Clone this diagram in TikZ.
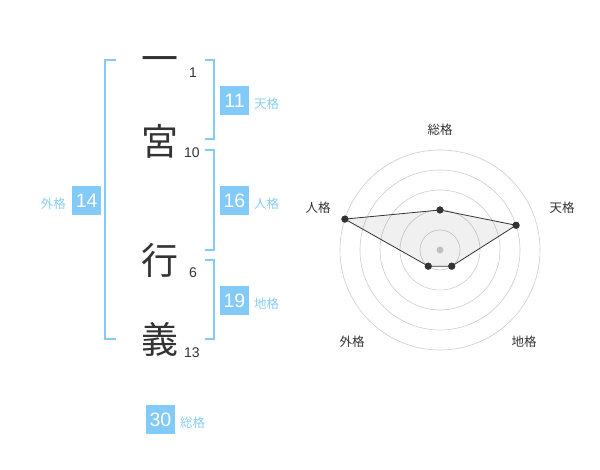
\documentclass[tikz,border=0pt]{standalone}
\usepackage{fontspec}
\setmainfont{Liberation Sans}
\newfontfamily\cjk{Noto Sans CJK JP}
\definecolor{lblue}{HTML}{82CBF8}
\definecolor{ltext}{HTML}{8ACDF5}
\definecolor{dark}{HTML}{333333}
\definecolor{ringc}{HTML}{CCCCCC}
\begin{document}
\begin{tikzpicture}[x=1pt,y=-1pt,
  bar/.style={draw=lblue, line width=2pt},
  numbox/.style={fill=lblue, text=white, minimum size=29pt, inner sep=0pt, font=\fontsize{19.5}{19.5}\selectfont},
  lbl/.style={text=ltext, font=\cjk\fontsize{12.5}{12.5}\selectfont, inner sep=0pt},
  kanji/.style={text=dark, font=\cjk\fontsize{37}{37}\selectfont, inner sep=0pt, text height=0.88em, text depth=0.12em},
  strokes/.style={text=dark, font=\fontsize{14}{14}\selectfont, inner sep=0pt},
  ring/.style={draw=ringc, line width=0.6pt},
  axlbl/.style={text=dark, font=\cjk\fontsize{12.5}{12.5}\selectfont, inner sep=0pt},
  pt/.style={circle, fill=dark, inner sep=0pt, minimum size=7pt}]
\useasboundingbox (0,0) rectangle (600,470);
% characters
\node[kanji] (c1) at (160,68.5) {一};
\node[kanji] (c2) at (160,152) {宮};
\node[kanji] (c3) at (160,270.5) {行};
\node[kanji] (c4) at (160,349.5) {義};
\node[strokes] (s1) at (193,73) {1};
\node[strokes] (s2) at (192,153) {10};
\node[strokes] (s3) at (193,273) {6};
\node[strokes] (s4) at (192,353) {13};
% brackets
\draw[bar] (116,60) -- (105,60) -- (105,339) -- (116,339);
\draw[bar] (205,60) -- (214,60) -- (214,139) -- (205,139);
\draw[bar] (205,150) -- (214,150) -- (214,250) -- (205,250);
\draw[bar] (205,260) -- (214,260) -- (214,339) -- (205,339);
% boxes
\node[numbox] (ten) at (234.5,100.3) {11};
\node[lbl, anchor=west] (tenl) at (254,104) {天格};
\node[numbox] (jin) at (234.5,200.3) {16};
\node[lbl, anchor=west] (jinl) at (254,204) {人格};
\node[numbox] (chi) at (234.5,300.3) {19};
\node[lbl, anchor=west] (chil) at (254,304) {地格};
\node[numbox] (gai) at (86.7,200.3) {14};
\node[lbl, anchor=east] (gail) at (66,204) {外格};
\node[numbox] (sou) at (160.5,419.3) {30};
\node[lbl, anchor=west] (soul) at (180,423) {総格};
% radar
\coordinate (O) at (440,250);
\foreach \r in {20,40,60,80,100} \draw[ring] (O) circle[radius=\r];
\fill[ringc] (O) circle[radius=3.5];
\begin{scope}[shift={(440,250)}]
\node[pt] (pS) at (-90:40) {};
\node[pt] (pT) at (-18:80) {};
\node[pt] (pC) at (54:20) {};
\node[pt] (pG) at (126:20) {};
\node[pt] (pJ) at (198:100) {};
\end{scope}
\fill[black, opacity=0.06] (pS.center) -- (pT.center) -- (pC.center) -- (pG.center) -- (pJ.center) -- cycle;
\draw[dark, line width=0.8pt] (pS.center) -- (pT.center) -- (pC.center) -- (pG.center) -- (pJ.center) -- cycle;
\node[pt] at (pS) {};\node[pt] at (pT) {};\node[pt] at (pC) {};\node[pt] at (pG) {};\node[pt] at (pJ) {};
\node[axlbl] (aS) at (440,130) {総格};
\node[axlbl] (aT) at (562,208) {天格};
\node[axlbl] (aJ) at (318,208) {人格};
\node[axlbl] (aG) at (352,342) {外格};
\node[axlbl] (aC) at (524,342) {地格};
\end{tikzpicture}
\end{document}
